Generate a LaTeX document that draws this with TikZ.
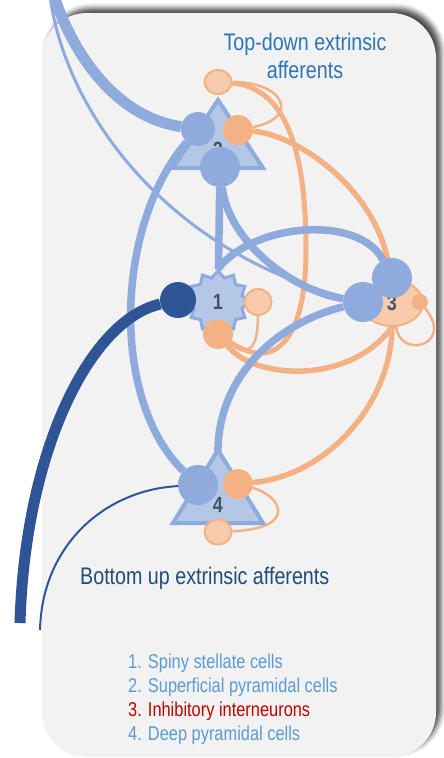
\documentclass[tikz,border=0pt]{standalone}
\usepackage{fontspec}
\setmainfont{Liberation Sans}
\newfontfamily\narrowsf{Liberation Sans}[FakeStretch=0.82]
\usetikzlibrary{arrows.meta, positioning, shapes.geometric, shadows.blur}
\definecolor{excblue}{HTML}{8FAADC}
\definecolor{cellfill}{HTML}{B4C7E7}
\definecolor{ssblue}{HTML}{2F5597}
\definecolor{inhorange}{HTML}{F4B183}
\definecolor{inhlight}{HTML}{F8CBAD}
\definecolor{numgray}{HTML}{44546A}
\definecolor{tdblue}{HTML}{2E75B6}
\definecolor{bunavy}{HTML}{1F4E79}
\definecolor{legblue}{HTML}{5B9BD5}
\definecolor{legred}{HTML}{C00000}
\definecolor{panelgray}{HTML}{F2F2F2}
\pgfdeclarelayer{panel}
\pgfdeclarelayer{wires}
\pgfsetlayers{panel,wires,main}

\begin{document}
\begin{tikzpicture}[
    x=1pt, y=-1pt,
    body/.style={fill=cellfill, draw=excblue, line width=4pt, line join=miter},
    num/.style={font=\narrowsf\bfseries\fontsize{22}{22}\selectfont, text=numgray, inner sep=0pt},
    exc/.style={circle, fill=excblue, inner sep=0pt},
    inh/.style={circle, fill=inhorange, inner sep=0pt},
    inhl/.style={ellipse, fill=inhlight, draw=inhorange, line width=2pt, inner sep=0pt},
    ew/.style={draw=excblue, line width=7.5pt},
    iw/.style={draw=inhorange, line width=5.5pt},
    bu/.style={draw=ssblue},
    slim/.style={line width=2.5pt},
    lbl/.style={font=\narrowsf\fontsize{24}{28}\selectfont, inner sep=0pt},
    key/.style={font=\narrowsf\fontsize{20}{24}\selectfont, anchor=base west, inner sep=0pt}
  ]
    \useasboundingbox (0,0) rectangle (444,758);

    \begin{pgfonlayer}{panel}
      \fill[panelgray, rounded corners=45pt,
            blur shadow={shadow xshift=5pt, shadow yshift=5pt, shadow blur radius=5pt, shadow opacity=70}]
        (42,13) rectangle (436,757);
    \end{pgfonlayer}

    % free ends of the extrinsic afferents
    \coordinate (tdThick) at (54,-4);
    \coordinate (tdThin) at (50,-4);
    \coordinate (buThick) at (20,623);
    \coordinate (buThin) at (40,630);
    \coordinate (dpTop) at (218,458);

    % cell bodies
    \draw[body] (218,100) -- (173,168) -- (263,168) -- cycle;
    \node[num] (sp) at (218,150) {2};
    \draw[body] (218,450) -- (173,523) -- (263,523) -- cycle;
    \node[num] (dp) at (218,505) {4};
    \node[body, num, star, star points=12, star point ratio=1.25, minimum size=62pt, line width=3pt] (ss) at (218,302) {1};
    \node[inhl, num, minimum width=62pt, minimum height=46pt] (ii) at (392,303) {3};

    % synapses
    \node[exc, minimum size=34pt] (spa) at (198,129) {};
    \node[exc, minimum size=40pt] (spb) at (220,167) {};
    \node[inh, minimum size=30pt] (spi) at (238,130) {};
    \node[inhl, minimum width=27pt, minimum height=24pt] (spl) at (218,82) {};
    \node[circle, fill=ssblue, inner sep=0pt, minimum size=36pt] (sse) at (178,300) {};
    \node[inhl, minimum width=27pt, minimum height=26pt] (ssl) at (258,302) {};
    \node[inh, minimum size=30pt] (ssi) at (218,334) {};
    \node[exc, minimum size=40pt] (iib) at (363,302) {};
    \node[exc, minimum size=40pt] (iia) at (392,278) {};
    \node[inh, minimum size=16pt] (iii) at (420,302) {};
    \node[exc, minimum size=40pt] (dpa) at (198,485) {};
    \node[inh, minimum size=30pt] (dpi) at (238,484) {};
    \node[inhl, minimum width=27pt, minimum height=25pt] (dpl) at (218,532) {};

    \begin{pgfonlayer}{wires}
      % inhibitory connections
      \draw[iw] (spi) .. controls (300,135) and (385,195) .. (ii);
      \draw[iw] (ii.south) .. controls (392,400) and (330,475) .. (dpi);
      \draw[iw, line width=5pt] (spl) .. controls (290,88) and (306,160) .. (306,250)
        .. controls (306,340) and (275,372) .. (ssi);
      \draw[iw] (ssi) .. controls (255,380) and (350,385) .. (ii.south);
      \draw[iw, slim] (ssl) .. controls (258,345) and (250,360) .. (ssi);
      \draw[iw, slim] (spl) .. controls (285,82) and (300,118) .. (spi);
      \draw[iw, slim] (ii.-80) .. controls (400,360) and (455,345) .. (iii);
      \draw[iw, slim] (dpi) .. controls (280,495) and (300,528) .. (dpl);
      % excitatory connections
      \draw[ew, line width=11pt] (tdThick) .. controls (75,60) and (120,118) .. (spa);
      \draw[ew, line width=3pt] (tdThin) .. controls (65,110) and (165,250) .. (iib);
      \draw[ew] (spb) .. controls (228,240) and (290,290) .. (iib);
      \draw[ew] (spb) -- (ss);
      \draw[ew] (ss.north) .. controls (255,222) and (360,215) .. (iia);
      \draw[ew] (spa) .. controls (115,225) and (110,400) .. (dpa);
      \draw[ew] (dpTop) .. controls (215,375) and (280,322) .. (iib);
      % bottom-up afferents
      \draw[bu, line width=11pt] (buThick) .. controls (25,450) and (90,320) .. (sse);
      \draw[bu, line width=2pt] (buThin) .. controls (42,545) and (105,490) .. (dpa);
    \end{pgfonlayer}

    \node[lbl, text=tdblue, align=center] (td) at (305,56) {Top-down extrinsic\\afferents};
    \node[lbl, text=bunavy, anchor=base west] (bua) at (80,584) {Bottom up extrinsic afferents};

    \foreach \txt/\col [count=\i] in {1. Spiny stellate cells/legblue, 2. Superficial pyramidal cells/legblue,
        3. Inhibitory interneurons/legred, 4. Deep pyramidal cells/legblue}
      \node[key, text=\col] (key\i) at (128,644+24*\i) {\txt};
  \end{tikzpicture}
\end{document}
